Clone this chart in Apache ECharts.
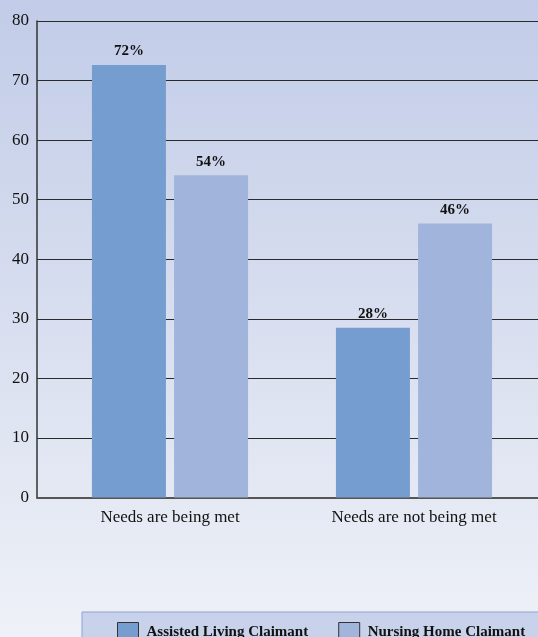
<!DOCTYPE html>
<html>
<head>
<meta charset="utf-8">
<script src="https://cdn.jsdelivr.net/npm/echarts@6/dist/echarts.min.js"></script>
<style>
html,body{margin:0;padding:0;}
#c{width:538px;height:637px;}
</style>
</head>
<body>
<div id="c"></div>
<script>
const categories = ['Needs are being met', 'Needs are not being met'];
const seriesNames = ['Assisted Living Claimant', 'Nursing Home Claimant'];
const assisted = [72.6, 28.5];
const nursing = [54.1, 46.0];
const assistedLabels = ['72%', '28%'];
const nursingLabels = ['54%', '46%'];
const yTicks = [0, 10, 20, 30, 40, 50, 60, 70, 80];

const chart = echarts.init(document.getElementById('c'));
const serif = '"Liberation Serif", "DejaVu Serif", serif';

function labelCfg(texts) {
  return {
    show: true,
    position: 'top',
    distance: 6,
    fontFamily: serif,
    fontWeight: 'bold',
    fontSize: 15,
    color: '#111',
    formatter: p => texts[p.dataIndex]
  };
}

const yMin = yTicks[0], yMax = yTicks[yTicks.length - 1];

chart.setOption({
  animation: false,
  backgroundColor: {
    type: 'linear', x: 0, y: 0, x2: 0, y2: 1,
    colorStops: [{offset: 0, color: '#c2cce8'}, {offset: 1, color: '#eef1f7'}]
  },
  graphic: [{
    type: 'rect',
    shape: {x: 82, y: 612, width: 470, height: 40},
    style: {fill: '#c9d2eb', stroke: '#8ea2d2', lineWidth: 1},
    z: 0
  }],
  grid: [
    {left: 48, right: 2, top: 21, bottom: 139.5},
    {left: 37, right: 0, top: 21, bottom: 139.5}
  ],
  legend: {
    data: seriesNames,
    left: 112,
    top: 617,
    icon: 'rect',
    itemWidth: 21,
    itemHeight: 20,
    itemGap: 30,
    itemStyle: {borderColor: '#333', borderWidth: 1},
    textStyle: {fontFamily: serif, fontWeight: 'bold', fontSize: 15, color: '#111', padding: [0, 0, 0, 3]},
    z: 5
  },
  xAxis: [
    {
      type: 'category',
      gridIndex: 0,
      data: categories,
      axisLine: {show: false},
      axisTick: {show: false},
      axisLabel: {fontFamily: serif, fontSize: 17, color: '#111', margin: 12}
    },
    {
      type: 'value', gridIndex: 1, min: 0, max: 1,
      axisLine: {show: true, lineStyle: {color: '#555', width: 2}},
      axisTick: {show: false},
      axisLabel: {show: false},
      splitLine: {show: false}
    }
  ],
  yAxis: [
    {
      type: 'value', gridIndex: 0,
      min: yMin, max: yMax, interval: 10,
      axisLine: {show: false}, axisTick: {show: false},
      axisLabel: {show: false}, splitLine: {show: false}
    },
    {
      type: 'value', gridIndex: 1,
      min: yMin, max: yMax, interval: 10,
      axisLine: {show: true, lineStyle: {color: '#333', width: 1.5}},
      axisTick: {show: false},
      axisLabel: {fontFamily: serif, fontSize: 17, color: '#111', margin: 8},
      splitLine: {lineStyle: {color: '#2a2a2a', width: 1}}
    }
  ],
  series: [
    {
      name: seriesNames[0], type: 'bar', data: assisted,
      xAxisIndex: 0, yAxisIndex: 0,
      barWidth: 74, barGap: '11%',
      itemStyle: {color: '#769dcf'},
      label: labelCfg(assistedLabels),
      z: 3
    },
    {
      name: seriesNames[1], type: 'bar', data: nursing,
      xAxisIndex: 0, yAxisIndex: 0,
      barWidth: 74,
      itemStyle: {color: '#a0b4dc'},
      label: labelCfg(nursingLabels),
      z: 3
    }
  ]
});
</script>
</body>
</html>
